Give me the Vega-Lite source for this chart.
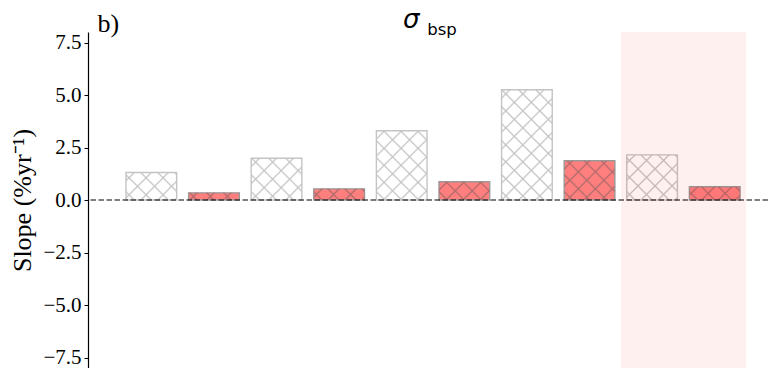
{
  "$schema": "https://vega.github.io/schema/vega-lite/v6.json",
  "width": 680,
  "height": 336,
  "autosize": {"type": "none"},
  "padding": {"left": 88, "top": 32, "right": 0, "bottom": 0},
  "background": "white",
  "config": {"view": {"stroke": null}, "axis": {"grid": false}},
  "title": {
    "text": "σ",
    "subtitle": "\u2800\u2800bsp",
    "anchor": "start",
    "frame": "group",
    "align": "left",
    "dx": 315,
    "dy": 28,
    "offset": 0,
    "font": "DejaVu Sans",
    "fontStyle": "italic",
    "fontWeight": "normal",
    "fontSize": 26,
    "color": "black",
    "subtitleFont": "DejaVu Sans",
    "subtitleFontSize": 16.5,
    "subtitleColor": "black",
    "subtitlePadding": -11
  },
  "datasets": {
    "bars": [
      {"group": "G1", "series": "A", "id": "1A", "value": 1.31},
      {"group": "G1", "series": "B", "id": "1B", "value": 0.34},
      {"group": "G2", "series": "A", "id": "2A", "value": 1.99},
      {"group": "G2", "series": "B", "id": "2B", "value": 0.53},
      {"group": "G3", "series": "A", "id": "3A", "value": 3.30},
      {"group": "G3", "series": "B", "id": "3B", "value": 0.87},
      {"group": "G4", "series": "A", "id": "4A", "value": 5.25},
      {"group": "G4", "series": "B", "id": "4B", "value": 1.87},
      {"group": "G5", "series": "A", "id": "5A", "value": 2.15},
      {"group": "G5", "series": "B", "id": "5B", "value": 0.63}
    ],
    "span": [{"group": "G5"}],
    "zero": [{"level": 0}]
  },
  "layer": [
    {
      "data": {"name": "bars"},
      "mark": {"type": "bar", "strokeWidth": 1.4},
      "encoding": {
        "x": {
          "field": "group", "type": "nominal", "title": "b)",
          "scale": {"type": "band", "domain": ["G1", "G2", "G3", "G4", "G5"], "paddingInner": 0, "paddingOuter": 0.2157, "align": 0.593},
          "axis": {"orient": "bottom", "domain": false, "ticks": false, "labels": false, "titleFont": "Liberation Serif", "titleFontSize": 26, "titleFontWeight": "normal", "titleColor": "black", "titleX": 9, "titleY": -337, "titleAlign": "left", "titleBaseline": "alphabetic", "titleAnchor": "start"}
        },
        "xOffset": {"field": "series", "type": "nominal", "scale": {"domain": ["A", "B"], "paddingInner": 0.191, "paddingOuter": 0.095}},
        "y": {
          "field": "value", "type": "quantitative", "title": "Slope (%yr⁻¹)",
          "scale": {"domain": [-8, 8], "nice": false},
          "axis": {"values": [-7.5, -5, -2.5, 0, 2.5, 5, 7.5], "format": ".1f", "labelFont": "Liberation Serif", "labelFontSize": 21, "labelColor": "black", "labelPadding": 3, "tickSize": 4, "tickColor": "black", "domainColor": "black", "domainWidth": 1.2, "titleFont": "Liberation Serif", "titleFontSize": 26, "titleFontWeight": "normal", "titleColor": "black", "titlePadding": 7}
        },
        "fill": {"field": "series", "type": "nominal", "scale": {"domain": ["A", "B"], "range": ["#ffffff", "#ff7f7f"]}, "legend": null},
        "stroke": {"field": "series", "type": "nominal", "scale": {"domain": ["A", "B"], "range": ["#c4c4c4", "#999999"]}, "legend": null}
      }
    },
    {
      "data": {"name": "bars"},
      "mark": {"type": "bar", "strokeWidth": 0},
      "encoding": {
        "x": {"field": "group", "type": "nominal", "title": "b)"},
        "xOffset": {"field": "series", "type": "nominal"},
        "y": {"field": "value", "type": "quantitative", "title": "Slope (%yr⁻¹)"},
        "fill": {
          "condition": [
            {"test": "datum.id==='1A'", "value": {"gradient": "linear", "x1": 0, "y1": 0, "x2": 2.5913, "y2": 1.4069, "stops": [
              {"offset": 0.0384, "color": "#c4c4c400"}, {"offset": 0.049, "color": "#c4c4c4"}, {"offset": 0.0596, "color": "#c4c4c400"},
              {"offset": 0.1384, "color": "#c4c4c400"}, {"offset": 0.149, "color": "#c4c4c4"}, {"offset": 0.1596, "color": "#c4c4c400"},
              {"offset": 0.2384, "color": "#c4c4c400"}, {"offset": 0.249, "color": "#c4c4c4"}, {"offset": 0.2596, "color": "#c4c4c400"},
              {"offset": 0.3384, "color": "#c4c4c400"}, {"offset": 0.349, "color": "#c4c4c4"}, {"offset": 0.3596, "color": "#c4c4c400"},
              {"offset": 0.4384, "color": "#c4c4c400"}, {"offset": 0.449, "color": "#c4c4c4"}, {"offset": 0.4596, "color": "#c4c4c400"}]}},
            {"test": "datum.id==='1B'", "value": {"gradient": "linear", "x1": 0, "y1": 0, "x2": 3.2898, "y2": 0.4636, "stops": [
              {"offset": 0.0384, "color": "#b06a6a00"}, {"offset": 0.049, "color": "#b06a6a"}, {"offset": 0.0596, "color": "#b06a6a00"},
              {"offset": 0.1384, "color": "#b06a6a00"}, {"offset": 0.149, "color": "#b06a6a"}, {"offset": 0.1596, "color": "#b06a6a00"},
              {"offset": 0.2384, "color": "#b06a6a00"}, {"offset": 0.249, "color": "#b06a6a"}, {"offset": 0.2596, "color": "#b06a6a00"}]}},
            {"test": "datum.id==='2A'", "value": {"gradient": "linear", "x1": 0, "y1": 0, "x2": 1.9968, "y2": 1.6469, "stops": [
              {"offset": 0.0384, "color": "#c4c4c400"}, {"offset": 0.049, "color": "#c4c4c4"}, {"offset": 0.0596, "color": "#c4c4c400"},
              {"offset": 0.1384, "color": "#c4c4c400"}, {"offset": 0.149, "color": "#c4c4c4"}, {"offset": 0.1596, "color": "#c4c4c400"},
              {"offset": 0.2384, "color": "#c4c4c400"}, {"offset": 0.249, "color": "#c4c4c4"}, {"offset": 0.2596, "color": "#c4c4c400"},
              {"offset": 0.3384, "color": "#c4c4c400"}, {"offset": 0.349, "color": "#c4c4c4"}, {"offset": 0.3596, "color": "#c4c4c400"},
              {"offset": 0.4384, "color": "#c4c4c400"}, {"offset": 0.449, "color": "#c4c4c4"}, {"offset": 0.4596, "color": "#c4c4c400"}]}},
            {"test": "datum.id==='2B'", "value": {"gradient": "linear", "x1": 0, "y1": 0, "x2": 3.2007, "y2": 0.7031, "stops": [
              {"offset": 0.0384, "color": "#b06a6a00"}, {"offset": 0.049, "color": "#b06a6a"}, {"offset": 0.0596, "color": "#b06a6a00"},
              {"offset": 0.1384, "color": "#b06a6a00"}, {"offset": 0.149, "color": "#b06a6a"}, {"offset": 0.1596, "color": "#b06a6a00"},
              {"offset": 0.2384, "color": "#b06a6a00"}, {"offset": 0.249, "color": "#b06a6a"}, {"offset": 0.2596, "color": "#b06a6a00"},
              {"offset": 0.3384, "color": "#b06a6a00"}, {"offset": 0.349, "color": "#b06a6a"}, {"offset": 0.3596, "color": "#b06a6a00"}]}},
            {"test": "datum.id==='3A'", "value": {"gradient": "linear", "x1": 0, "y1": 0, "x2": 1.1688, "y2": 1.5985, "stops": [
              {"offset": 0.0384, "color": "#c4c4c400"}, {"offset": 0.049, "color": "#c4c4c4"}, {"offset": 0.0596, "color": "#c4c4c400"},
              {"offset": 0.1384, "color": "#c4c4c400"}, {"offset": 0.149, "color": "#c4c4c4"}, {"offset": 0.1596, "color": "#c4c4c400"},
              {"offset": 0.2384, "color": "#c4c4c400"}, {"offset": 0.249, "color": "#c4c4c4"}, {"offset": 0.2596, "color": "#c4c4c400"},
              {"offset": 0.3384, "color": "#c4c4c400"}, {"offset": 0.349, "color": "#c4c4c4"}, {"offset": 0.3596, "color": "#c4c4c400"},
              {"offset": 0.4384, "color": "#c4c4c400"}, {"offset": 0.449, "color": "#c4c4c4"}, {"offset": 0.4596, "color": "#c4c4c400"},
              {"offset": 0.5384, "color": "#c4c4c400"}, {"offset": 0.549, "color": "#c4c4c4"}, {"offset": 0.5596, "color": "#c4c4c400"},
              {"offset": 0.6384, "color": "#c4c4c400"}, {"offset": 0.649, "color": "#c4c4c4"}, {"offset": 0.6596, "color": "#c4c4c400"}]}},
            {"test": "datum.id==='3B'", "value": {"gradient": "linear", "x1": 0, "y1": 0, "x2": 2.969, "y2": 1.0705, "stops": [
              {"offset": 0.0384, "color": "#b06a6a00"}, {"offset": 0.049, "color": "#b06a6a"}, {"offset": 0.0596, "color": "#b06a6a00"},
              {"offset": 0.1384, "color": "#b06a6a00"}, {"offset": 0.149, "color": "#b06a6a"}, {"offset": 0.1596, "color": "#b06a6a00"},
              {"offset": 0.2384, "color": "#b06a6a00"}, {"offset": 0.249, "color": "#b06a6a"}, {"offset": 0.2596, "color": "#b06a6a00"},
              {"offset": 0.3384, "color": "#b06a6a00"}, {"offset": 0.349, "color": "#b06a6a"}, {"offset": 0.3596, "color": "#b06a6a00"}]}},
            {"test": "datum.id==='4A'", "value": {"gradient": "linear", "x1": 0, "y1": 0, "x2": 0.5851, "y2": 1.2731, "stops": [
              {"offset": 0.0384, "color": "#c4c4c400"}, {"offset": 0.049, "color": "#c4c4c4"}, {"offset": 0.0596, "color": "#c4c4c400"},
              {"offset": 0.1384, "color": "#c4c4c400"}, {"offset": 0.149, "color": "#c4c4c4"}, {"offset": 0.1596, "color": "#c4c4c400"},
              {"offset": 0.2384, "color": "#c4c4c400"}, {"offset": 0.249, "color": "#c4c4c4"}, {"offset": 0.2596, "color": "#c4c4c400"},
              {"offset": 0.3384, "color": "#c4c4c400"}, {"offset": 0.349, "color": "#c4c4c4"}, {"offset": 0.3596, "color": "#c4c4c400"},
              {"offset": 0.4384, "color": "#c4c4c400"}, {"offset": 0.449, "color": "#c4c4c4"}, {"offset": 0.4596, "color": "#c4c4c400"},
              {"offset": 0.5384, "color": "#c4c4c400"}, {"offset": 0.549, "color": "#c4c4c4"}, {"offset": 0.5596, "color": "#c4c4c400"},
              {"offset": 0.6384, "color": "#c4c4c400"}, {"offset": 0.649, "color": "#c4c4c4"}, {"offset": 0.6596, "color": "#c4c4c400"},
              {"offset": 0.7384, "color": "#c4c4c400"}, {"offset": 0.749, "color": "#c4c4c4"}, {"offset": 0.7596, "color": "#c4c4c400"},
              {"offset": 0.8384, "color": "#c4c4c400"}, {"offset": 0.849, "color": "#c4c4c4"}, {"offset": 0.8596, "color": "#c4c4c400"}]}},
            {"test": "datum.id==='4B'", "value": {"gradient": "linear", "x1": 0, "y1": 0, "x2": 2.0961, "y2": 1.6245, "stops": [
              {"offset": 0.0384, "color": "#b06a6a00"}, {"offset": 0.049, "color": "#b06a6a"}, {"offset": 0.0596, "color": "#b06a6a00"},
              {"offset": 0.1384, "color": "#b06a6a00"}, {"offset": 0.149, "color": "#b06a6a"}, {"offset": 0.1596, "color": "#b06a6a00"},
              {"offset": 0.2384, "color": "#b06a6a00"}, {"offset": 0.249, "color": "#b06a6a"}, {"offset": 0.2596, "color": "#b06a6a00"},
              {"offset": 0.3384, "color": "#b06a6a00"}, {"offset": 0.349, "color": "#b06a6a"}, {"offset": 0.3596, "color": "#b06a6a00"},
              {"offset": 0.4384, "color": "#b06a6a00"}, {"offset": 0.449, "color": "#b06a6a"}, {"offset": 0.4596, "color": "#b06a6a00"}]}},
            {"test": "datum.id==='5A'", "value": {"gradient": "linear", "x1": 0, "y1": 0, "x2": 1.8702, "y2": 1.6664, "stops": [
              {"offset": 0.0384, "color": "#c4c4c400"}, {"offset": 0.049, "color": "#c4c4c4"}, {"offset": 0.0596, "color": "#c4c4c400"},
              {"offset": 0.1384, "color": "#c4c4c400"}, {"offset": 0.149, "color": "#c4c4c4"}, {"offset": 0.1596, "color": "#c4c4c400"},
              {"offset": 0.2384, "color": "#c4c4c400"}, {"offset": 0.249, "color": "#c4c4c4"}, {"offset": 0.2596, "color": "#c4c4c400"},
              {"offset": 0.3384, "color": "#c4c4c400"}, {"offset": 0.349, "color": "#c4c4c4"}, {"offset": 0.3596, "color": "#c4c4c400"},
              {"offset": 0.4384, "color": "#c4c4c400"}, {"offset": 0.449, "color": "#c4c4c4"}, {"offset": 0.4596, "color": "#c4c4c400"},
              {"offset": 0.5384, "color": "#c4c4c400"}, {"offset": 0.549, "color": "#c4c4c4"}, {"offset": 0.5596, "color": "#c4c4c400"}]}},
            {"test": "datum.id==='5B'", "value": {"gradient": "linear", "x1": 0, "y1": 0, "x2": 3.141, "y2": 0.8201, "stops": [
              {"offset": 0.0384, "color": "#b06a6a00"}, {"offset": 0.049, "color": "#b06a6a"}, {"offset": 0.0596, "color": "#b06a6a00"},
              {"offset": 0.1384, "color": "#b06a6a00"}, {"offset": 0.149, "color": "#b06a6a"}, {"offset": 0.1596, "color": "#b06a6a00"},
              {"offset": 0.2384, "color": "#b06a6a00"}, {"offset": 0.249, "color": "#b06a6a"}, {"offset": 0.2596, "color": "#b06a6a00"},
              {"offset": 0.3384, "color": "#b06a6a00"}, {"offset": 0.349, "color": "#b06a6a"}, {"offset": 0.3596, "color": "#b06a6a00"}]}}
          ],
          "value": "transparent"
        }
      }
    },
    {
      "data": {"name": "bars"},
      "mark": {"type": "bar", "strokeWidth": 0},
      "encoding": {
        "x": {"field": "group", "type": "nominal", "title": "b)"},
        "xOffset": {"field": "series", "type": "nominal"},
        "y": {"field": "value", "type": "quantitative", "title": "Slope (%yr⁻¹)"},
        "fill": {
          "condition": [
            {"test": "datum.id==='1A'", "value": {"gradient": "linear", "x1": 0, "y1": 1, "x2": 2.5913, "y2": -0.4069, "stops": [
              {"offset": 0.0384, "color": "#c4c4c400"}, {"offset": 0.049, "color": "#c4c4c4"}, {"offset": 0.0596, "color": "#c4c4c400"},
              {"offset": 0.1384, "color": "#c4c4c400"}, {"offset": 0.149, "color": "#c4c4c4"}, {"offset": 0.1596, "color": "#c4c4c400"},
              {"offset": 0.2384, "color": "#c4c4c400"}, {"offset": 0.249, "color": "#c4c4c4"}, {"offset": 0.2596, "color": "#c4c4c400"},
              {"offset": 0.3384, "color": "#c4c4c400"}, {"offset": 0.349, "color": "#c4c4c4"}, {"offset": 0.3596, "color": "#c4c4c400"},
              {"offset": 0.4384, "color": "#c4c4c400"}, {"offset": 0.449, "color": "#c4c4c4"}, {"offset": 0.4596, "color": "#c4c4c400"}]}},
            {"test": "datum.id==='1B'", "value": {"gradient": "linear", "x1": 0, "y1": 1, "x2": 3.2898, "y2": 0.5364, "stops": [
              {"offset": 0.0384, "color": "#b06a6a00"}, {"offset": 0.049, "color": "#b06a6a"}, {"offset": 0.0596, "color": "#b06a6a00"},
              {"offset": 0.1384, "color": "#b06a6a00"}, {"offset": 0.149, "color": "#b06a6a"}, {"offset": 0.1596, "color": "#b06a6a00"},
              {"offset": 0.2384, "color": "#b06a6a00"}, {"offset": 0.249, "color": "#b06a6a"}, {"offset": 0.2596, "color": "#b06a6a00"}]}},
            {"test": "datum.id==='2A'", "value": {"gradient": "linear", "x1": 0, "y1": 1, "x2": 1.9968, "y2": -0.6469, "stops": [
              {"offset": 0.0384, "color": "#c4c4c400"}, {"offset": 0.049, "color": "#c4c4c4"}, {"offset": 0.0596, "color": "#c4c4c400"},
              {"offset": 0.1384, "color": "#c4c4c400"}, {"offset": 0.149, "color": "#c4c4c4"}, {"offset": 0.1596, "color": "#c4c4c400"},
              {"offset": 0.2384, "color": "#c4c4c400"}, {"offset": 0.249, "color": "#c4c4c4"}, {"offset": 0.2596, "color": "#c4c4c400"},
              {"offset": 0.3384, "color": "#c4c4c400"}, {"offset": 0.349, "color": "#c4c4c4"}, {"offset": 0.3596, "color": "#c4c4c400"},
              {"offset": 0.4384, "color": "#c4c4c400"}, {"offset": 0.449, "color": "#c4c4c4"}, {"offset": 0.4596, "color": "#c4c4c400"}]}},
            {"test": "datum.id==='2B'", "value": {"gradient": "linear", "x1": 0, "y1": 1, "x2": 3.2007, "y2": 0.2969, "stops": [
              {"offset": 0.0384, "color": "#b06a6a00"}, {"offset": 0.049, "color": "#b06a6a"}, {"offset": 0.0596, "color": "#b06a6a00"},
              {"offset": 0.1384, "color": "#b06a6a00"}, {"offset": 0.149, "color": "#b06a6a"}, {"offset": 0.1596, "color": "#b06a6a00"},
              {"offset": 0.2384, "color": "#b06a6a00"}, {"offset": 0.249, "color": "#b06a6a"}, {"offset": 0.2596, "color": "#b06a6a00"},
              {"offset": 0.3384, "color": "#b06a6a00"}, {"offset": 0.349, "color": "#b06a6a"}, {"offset": 0.3596, "color": "#b06a6a00"}]}},
            {"test": "datum.id==='3A'", "value": {"gradient": "linear", "x1": 0, "y1": 1, "x2": 1.1688, "y2": -0.5985, "stops": [
              {"offset": 0.0384, "color": "#c4c4c400"}, {"offset": 0.049, "color": "#c4c4c4"}, {"offset": 0.0596, "color": "#c4c4c400"},
              {"offset": 0.1384, "color": "#c4c4c400"}, {"offset": 0.149, "color": "#c4c4c4"}, {"offset": 0.1596, "color": "#c4c4c400"},
              {"offset": 0.2384, "color": "#c4c4c400"}, {"offset": 0.249, "color": "#c4c4c4"}, {"offset": 0.2596, "color": "#c4c4c400"},
              {"offset": 0.3384, "color": "#c4c4c400"}, {"offset": 0.349, "color": "#c4c4c4"}, {"offset": 0.3596, "color": "#c4c4c400"},
              {"offset": 0.4384, "color": "#c4c4c400"}, {"offset": 0.449, "color": "#c4c4c4"}, {"offset": 0.4596, "color": "#c4c4c400"},
              {"offset": 0.5384, "color": "#c4c4c400"}, {"offset": 0.549, "color": "#c4c4c4"}, {"offset": 0.5596, "color": "#c4c4c400"},
              {"offset": 0.6384, "color": "#c4c4c400"}, {"offset": 0.649, "color": "#c4c4c4"}, {"offset": 0.6596, "color": "#c4c4c400"}]}},
            {"test": "datum.id==='3B'", "value": {"gradient": "linear", "x1": 0, "y1": 1, "x2": 2.969, "y2": -0.0705, "stops": [
              {"offset": 0.0384, "color": "#b06a6a00"}, {"offset": 0.049, "color": "#b06a6a"}, {"offset": 0.0596, "color": "#b06a6a00"},
              {"offset": 0.1384, "color": "#b06a6a00"}, {"offset": 0.149, "color": "#b06a6a"}, {"offset": 0.1596, "color": "#b06a6a00"},
              {"offset": 0.2384, "color": "#b06a6a00"}, {"offset": 0.249, "color": "#b06a6a"}, {"offset": 0.2596, "color": "#b06a6a00"},
              {"offset": 0.3384, "color": "#b06a6a00"}, {"offset": 0.349, "color": "#b06a6a"}, {"offset": 0.3596, "color": "#b06a6a00"}]}},
            {"test": "datum.id==='4A'", "value": {"gradient": "linear", "x1": 0, "y1": 1, "x2": 0.5851, "y2": -0.2731, "stops": [
              {"offset": 0.0384, "color": "#c4c4c400"}, {"offset": 0.049, "color": "#c4c4c4"}, {"offset": 0.0596, "color": "#c4c4c400"},
              {"offset": 0.1384, "color": "#c4c4c400"}, {"offset": 0.149, "color": "#c4c4c4"}, {"offset": 0.1596, "color": "#c4c4c400"},
              {"offset": 0.2384, "color": "#c4c4c400"}, {"offset": 0.249, "color": "#c4c4c4"}, {"offset": 0.2596, "color": "#c4c4c400"},
              {"offset": 0.3384, "color": "#c4c4c400"}, {"offset": 0.349, "color": "#c4c4c4"}, {"offset": 0.3596, "color": "#c4c4c400"},
              {"offset": 0.4384, "color": "#c4c4c400"}, {"offset": 0.449, "color": "#c4c4c4"}, {"offset": 0.4596, "color": "#c4c4c400"},
              {"offset": 0.5384, "color": "#c4c4c400"}, {"offset": 0.549, "color": "#c4c4c4"}, {"offset": 0.5596, "color": "#c4c4c400"},
              {"offset": 0.6384, "color": "#c4c4c400"}, {"offset": 0.649, "color": "#c4c4c4"}, {"offset": 0.6596, "color": "#c4c4c400"},
              {"offset": 0.7384, "color": "#c4c4c400"}, {"offset": 0.749, "color": "#c4c4c4"}, {"offset": 0.7596, "color": "#c4c4c400"},
              {"offset": 0.8384, "color": "#c4c4c400"}, {"offset": 0.849, "color": "#c4c4c4"}, {"offset": 0.8596, "color": "#c4c4c400"}]}},
            {"test": "datum.id==='4B'", "value": {"gradient": "linear", "x1": 0, "y1": 1, "x2": 2.0961, "y2": -0.6245, "stops": [
              {"offset": 0.0384, "color": "#b06a6a00"}, {"offset": 0.049, "color": "#b06a6a"}, {"offset": 0.0596, "color": "#b06a6a00"},
              {"offset": 0.1384, "color": "#b06a6a00"}, {"offset": 0.149, "color": "#b06a6a"}, {"offset": 0.1596, "color": "#b06a6a00"},
              {"offset": 0.2384, "color": "#b06a6a00"}, {"offset": 0.249, "color": "#b06a6a"}, {"offset": 0.2596, "color": "#b06a6a00"},
              {"offset": 0.3384, "color": "#b06a6a00"}, {"offset": 0.349, "color": "#b06a6a"}, {"offset": 0.3596, "color": "#b06a6a00"},
              {"offset": 0.4384, "color": "#b06a6a00"}, {"offset": 0.449, "color": "#b06a6a"}, {"offset": 0.4596, "color": "#b06a6a00"}]}},
            {"test": "datum.id==='5A'", "value": {"gradient": "linear", "x1": 0, "y1": 1, "x2": 1.8702, "y2": -0.6664, "stops": [
              {"offset": 0.0384, "color": "#c4c4c400"}, {"offset": 0.049, "color": "#c4c4c4"}, {"offset": 0.0596, "color": "#c4c4c400"},
              {"offset": 0.1384, "color": "#c4c4c400"}, {"offset": 0.149, "color": "#c4c4c4"}, {"offset": 0.1596, "color": "#c4c4c400"},
              {"offset": 0.2384, "color": "#c4c4c400"}, {"offset": 0.249, "color": "#c4c4c4"}, {"offset": 0.2596, "color": "#c4c4c400"},
              {"offset": 0.3384, "color": "#c4c4c400"}, {"offset": 0.349, "color": "#c4c4c4"}, {"offset": 0.3596, "color": "#c4c4c400"},
              {"offset": 0.4384, "color": "#c4c4c400"}, {"offset": 0.449, "color": "#c4c4c4"}, {"offset": 0.4596, "color": "#c4c4c400"},
              {"offset": 0.5384, "color": "#c4c4c400"}, {"offset": 0.549, "color": "#c4c4c4"}, {"offset": 0.5596, "color": "#c4c4c400"}]}},
            {"test": "datum.id==='5B'", "value": {"gradient": "linear", "x1": 0, "y1": 1, "x2": 3.141, "y2": 0.1799, "stops": [
              {"offset": 0.0384, "color": "#b06a6a00"}, {"offset": 0.049, "color": "#b06a6a"}, {"offset": 0.0596, "color": "#b06a6a00"},
              {"offset": 0.1384, "color": "#b06a6a00"}, {"offset": 0.149, "color": "#b06a6a"}, {"offset": 0.1596, "color": "#b06a6a00"},
              {"offset": 0.2384, "color": "#b06a6a00"}, {"offset": 0.249, "color": "#b06a6a"}, {"offset": 0.2596, "color": "#b06a6a00"},
              {"offset": 0.3384, "color": "#b06a6a00"}, {"offset": 0.349, "color": "#b06a6a"}, {"offset": 0.3596, "color": "#b06a6a00"}]}}
          ],
          "value": "transparent"
        }
      }
    },
    {
      "data": {"name": "span"},
      "mark": {"type": "bar", "fill": "#ff0000", "fillOpacity": 0.06, "strokeWidth": 0},
      "encoding": {
        "x": {"field": "group", "type": "nominal", "title": "b)"},
        "y": {"datum": -8, "type": "quantitative", "title": "Slope (%yr⁻¹)"},
        "y2": {"datum": 8}
      }
    },
    {
      "data": {"name": "zero"},
      "mark": {"type": "rule", "color": "black", "strokeWidth": 1.1, "strokeDash": [5.5, 2.5]},
      "encoding": {"y": {"field": "level", "type": "quantitative", "title": "Slope (%yr⁻¹)"}}
    }
  ]
}
